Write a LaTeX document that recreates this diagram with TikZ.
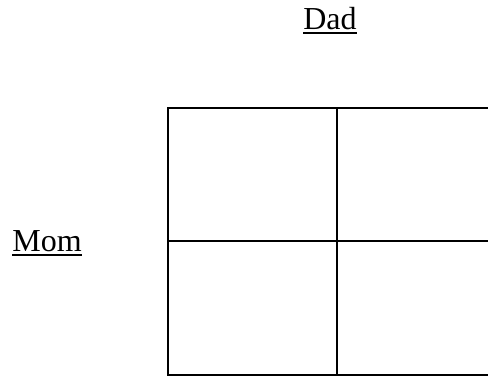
\documentclass[tikz,border=0pt]{standalone}
\usepackage{fontspec}
\setmainfont{Liberation Serif}
\tikzset{
  lbl/.style={inner sep=0pt, anchor=base, font=\fontsize{32bp}{38bp}\selectfont},
  uline/.style={line width=1.5bp},
  gridline/.style={line width=1.8bp}
}
\begin{document}
\begin{tikzpicture}[x=1bp,y=-1bp]
\useasboundingbox (0,0) rectangle (488,376);
\fill[white] (0,0) rectangle (488,376);
\node[lbl] (dad) at (330,29) {Dad};
\node[lbl] (mom) at (47,251) {Mom};
\draw[uline] ([yshift=-4bp]dad.base west) -- ([yshift=-4bp]dad.base east);
\draw[uline] ([yshift=-4bp]mom.base west) -- ([yshift=-4bp]mom.base east);
\begin{scope}
\clip (0,0) rectangle (488,376);
\coordinate (tl) at (168,108);
\coordinate (br) at (506,375);
\draw[gridline] (tl) rectangle (br);
\draw[gridline] (337,108) -- (337,375);
\draw[gridline] (168,241) -- (506,241);
\end{scope}
\end{tikzpicture}
\end{document}
